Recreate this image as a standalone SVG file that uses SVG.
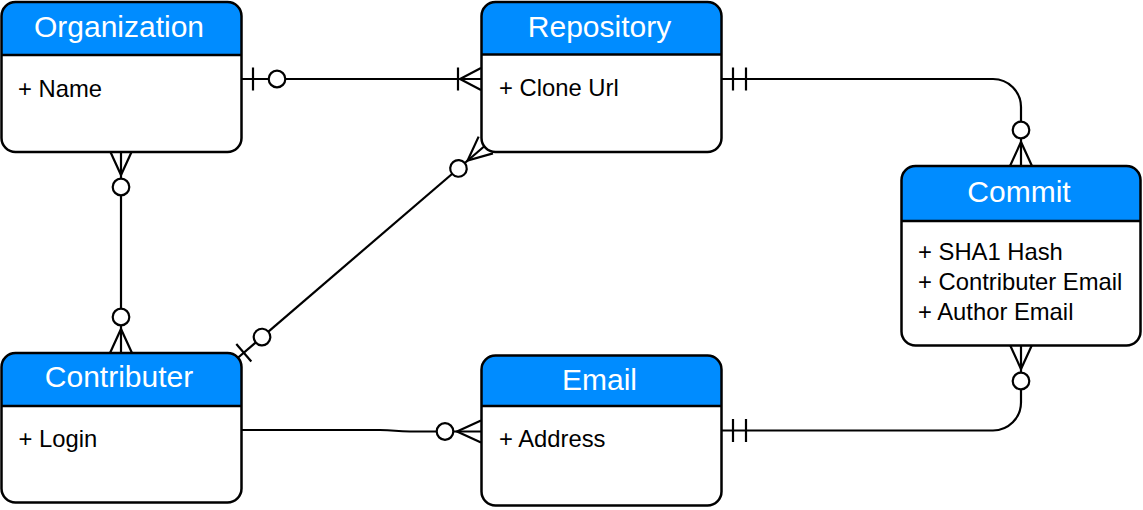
<svg xmlns="http://www.w3.org/2000/svg" width="1143" height="510" viewBox="0 0 1143 510">
<style>
.box{fill:none;stroke:#000;stroke-width:2.5}
.body{fill:#fff;stroke:none}
.hdr{fill:#008cff;stroke:none}
.div{stroke:#000;stroke-width:2.5}
.ht{font-family:"Liberation Sans",Arial,sans-serif;font-size:30px;fill:#fff;text-anchor:middle}
.bt{font-family:"Liberation Sans",Arial,sans-serif;font-size:23.8px;fill:#000}
.ln{fill:none;stroke:#000;stroke-width:2.2}
.ci{fill:#fff;stroke:#000;stroke-width:2.2}
</style>
<defs>
<g id="z1"><path class="ln" d="M12,-11.5V11.5"/><circle class="ci" cx="36" cy="0" r="8.3"/></g>
<g id="om"><path class="ln" d="M0,-11L21,0L0,11M23,-11.5V11.5"/></g>
<g id="mo"><path class="ln" d="M12,-11.5V11.5M25,-11.5V11.5"/></g>
<g id="zm"><path class="ln" d="M0,-11L24,0L0,11"/><circle class="ci" cx="36" cy="0" r="8.3"/></g>
</defs>

<g id="connectors">
<path class="ln" d="M241,79H481"/>
<path class="ln" d="M121,151V353"/>
<path class="ln" d="M234.7,360.5L485.8,145"/>
<path class="ln" d="M721,79H993A28,28 0 0 1 1021,107V166"/>
<path class="ln" d="M721,430.5H993A28,28 0 0 0 1021,402.5V345"/>
<path class="ln" d="M241,430H380C395,430 395,431.5 410,431.5H481"/>
<use href="#z1" transform="translate(241,79)"/>
<use href="#om" transform="translate(481,79) rotate(180)"/>
<use href="#zm" transform="translate(121,151) rotate(90)"/>
<use href="#zm" transform="translate(121,353) rotate(-90)"/>
<use href="#z1" transform="translate(234.7,360.5) rotate(-40.64)"/>
<use href="#zm" transform="translate(485.8,145) rotate(139.36)"/>
<use href="#mo" transform="translate(721,79)"/>
<use href="#zm" transform="translate(1021,166) rotate(-90)"/>
<use href="#mo" transform="translate(721,430.5)"/>
<use href="#zm" transform="translate(1021,345) rotate(90)"/>
<use href="#zm" transform="translate(481,431.5) rotate(180)"/>
</g>

<g id="organization">
<rect class="body" x="1.5" y="2" width="240" height="150" rx="14"/>
<path class="hdr" d="M1.5,55V16A14,14 0 0 1 15.5,2H227.5A14,14 0 0 1 241.5,16V55Z"/>
<line class="div" x1="1.5" y1="55" x2="241.5" y2="55"/>
<rect class="box" x="1.5" y="2" width="240" height="150" rx="14"/>
<text class="ht" x="119" y="37">Organization</text>
<text class="bt" x="18" y="97">+ Name</text>
</g>

<g id="repository">
<rect class="body" x="481.5" y="2" width="240" height="150" rx="14"/>
<path class="hdr" d="M481.5,54.5V16A14,14 0 0 1 495.5,2H707.5A14,14 0 0 1 721.5,16V54.5Z"/>
<line class="div" x1="481.5" y1="54.5" x2="721.5" y2="54.5"/>
<rect class="box" x="481.5" y="2" width="240" height="150" rx="14"/>
<text class="ht" x="599.5" y="37">Repository</text>
<text class="bt" x="499" y="96">+ Clone Url</text>
</g>

<g id="commit">
<rect class="body" x="901.5" y="166" width="239" height="179.5" rx="14"/>
<path class="hdr" d="M901.5,221V180A14,14 0 0 1 915.5,166H1126.5A14,14 0 0 1 1140.5,180V221Z"/>
<line class="div" x1="901.5" y1="221" x2="1140.5" y2="221"/>
<rect class="box" x="901.5" y="166" width="239" height="179.5" rx="14"/>
<text class="ht" x="1019" y="202">Commit</text>
<text class="bt" x="918" y="260">+ SHA1 Hash</text>
<text class="bt" x="918" y="290">+ Contributer Email</text>
<text class="bt" x="918" y="320">+ Author Email</text>
</g>

<g id="contributer">
<rect class="body" x="1.5" y="353" width="240" height="149.5" rx="14"/>
<path class="hdr" d="M1.5,406V367A14,14 0 0 1 15.5,353H227.5A14,14 0 0 1 241.5,367V406Z"/>
<line class="div" x1="1.5" y1="406" x2="241.5" y2="406"/>
<rect class="box" x="1.5" y="353" width="240" height="149.5" rx="14"/>
<text class="ht" x="119" y="387">Contributer</text>
<text class="bt" x="18.5" y="447">+ Login</text>
</g>

<g id="email">
<rect class="body" x="481.5" y="355.5" width="240" height="150" rx="14"/>
<path class="hdr" d="M481.5,406V369.5A14,14 0 0 1 495.5,355.5H707.5A14,14 0 0 1 721.5,369.5V406Z"/>
<line class="div" x1="481.5" y1="406" x2="721.5" y2="406"/>
<rect class="box" x="481.5" y="355.5" width="240" height="150" rx="14"/>
<text class="ht" x="599.5" y="390">Email</text>
<text class="bt" x="499" y="447">+ Address</text>
</g>
</svg>
